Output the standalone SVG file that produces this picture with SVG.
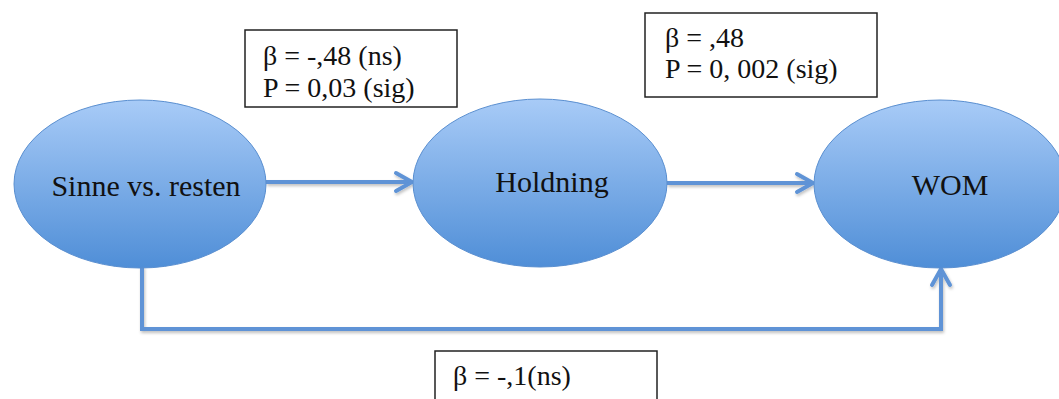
<svg xmlns="http://www.w3.org/2000/svg" width="1059" height="399" viewBox="0 0 1059 399">
<style>
.node{fill:url(#g);stroke:#5a8fd0;stroke-width:1}
.lbl{font-family:"Liberation Serif","Times New Roman",serif;font-size:28px;fill:#111}
.nl{font-size:30px}
.box{fill:#fff;stroke:#222;stroke-width:1.5}
.conn{fill:none;stroke:#5e93d6;stroke-width:4;stroke-linejoin:miter}
.head{fill:none;stroke:#5e93d6;stroke-width:4;stroke-linecap:round;stroke-linejoin:round}
</style>
<defs>
<linearGradient id="g" x1="0" y1="0" x2="0" y2="1">
<stop offset="0" stop-color="#a8cbf7"/>
<stop offset="1" stop-color="#4f8ed7"/>
</linearGradient>
<filter id="sh" x="-10%" y="-10%" width="130%" height="130%">
<feDropShadow dx="1" dy="2" stdDeviation="1.5" flood-color="#000" flood-opacity="0.25"/>
</filter>
</defs>
<rect width="1059" height="399" fill="#fff"/>
<g id="connectors" filter="url(#sh)">
<line class="conn" x1="266" y1="182" x2="411" y2="182"/>
<polyline class="head" points="396,173 412,182 396,191"/>
<line class="conn" x1="667" y1="183" x2="812" y2="183"/>
<polyline class="head" points="797,174 813,183 797,192"/>
<polyline class="conn" points="142,266 142,329 941,329 941,271"/>
<polyline class="head" points="932,285 941,269 950,285"/>
</g>
<g id="node-sinne">
<ellipse class="node" cx="140" cy="184" rx="126" ry="84"/>
<text class="lbl nl" x="146" y="196" text-anchor="middle">Sinne vs. resten</text>
</g>
<g id="node-holdning">
<ellipse class="node" cx="540" cy="183" rx="127" ry="84"/>
<text class="lbl nl" x="552" y="192" text-anchor="middle">Holdning</text>
</g>
<g id="node-wom">
<ellipse class="node" cx="940" cy="184" rx="126" ry="84"/>
<text class="lbl nl" x="950" y="195" text-anchor="middle">WOM</text>
</g>
<g id="label-1">
<rect class="box" x="245" y="30" width="212" height="77"/>
<text class="lbl" x="263" y="65">β = -,48 (ns)</text>
<text class="lbl" x="263" y="97">P = 0,03 (sig)</text>
</g>
<g id="label-2">
<rect class="box" x="645" y="13" width="232" height="84"/>
<text class="lbl" x="665" y="47">β = ,48</text>
<text class="lbl" x="665" y="78">P = 0, 002 (sig)</text>
</g>
<g id="label-3">
<rect class="box" x="435" y="351" width="222" height="60"/>
<text class="lbl" x="453" y="385">β = -,1(ns)</text>
</g>
</svg>
